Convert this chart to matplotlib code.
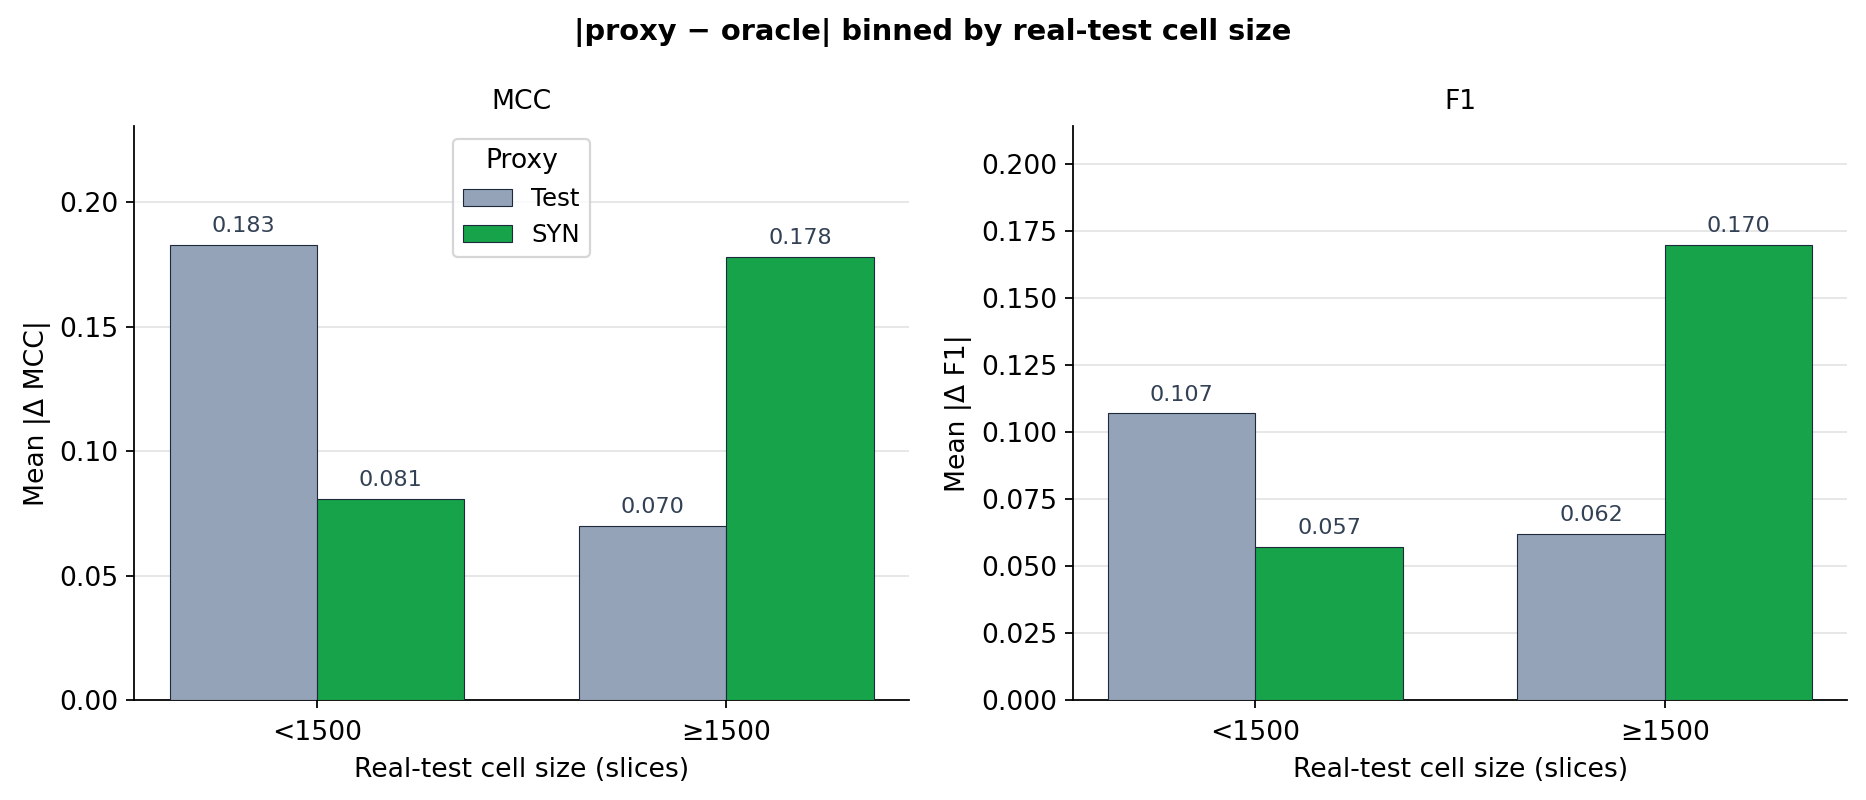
import matplotlib.pyplot as plt
import numpy as np

bins = ["<1500", "≥1500"]
proxies = ["Test", "SYN"]
mcc_test = [0.183, 0.070]
mcc_syn = [0.081, 0.178]
f1_test = [0.107, 0.062]
f1_syn = [0.057, 0.170]

colors = {"Test": "#94a3b8", "SYN": "#16a34a"}

fig, axes = plt.subplots(1, 2, figsize=(11.6625, 5), dpi=160)

panels = [
    ("MCC", "Mean |Δ MCC|", {"Test": mcc_test, "SYN": mcc_syn}),
    ("F1", "Mean |Δ F1|", {"Test": f1_test, "SYN": f1_syn}),
]

x = np.arange(len(bins))
w = 0.36

for i, (ax, (title, ylabel, vals)) in enumerate(zip(axes, panels)):
    for j, p in enumerate(proxies):
        offs = (j - 0.5) * w
        bars = ax.bar(x + offs, vals[p], width=w, color=colors[p],
                      edgecolor="#1e293b", linewidth=0.5, label=p, zorder=3)
        for b, v in zip(bars, vals[p]):
            ax.annotate(f"{v:.3f}", (b.get_x() + b.get_width() / 2, v),
                        xytext=(0, 4), textcoords="offset points",
                        ha="center", va="bottom", fontsize=10, color="#334155")
    top = max(max(vals["Test"]), max(vals["SYN"]))
    ax.set_ylim(0, top * 1.26)
    ax.set_xticks(x)
    ax.set_xticklabels(bins, fontsize=12)
    ax.tick_params(axis="y", labelsize=12)
    ax.tick_params(axis="x", pad=5.5)
    ax.set_title(title, fontsize=12, pad=8)
    ax.set_ylabel(ylabel, fontsize=12)
    ax.set_xlabel("Real-test cell size (slices)", fontsize=12, labelpad=5)
    ax.grid(axis="y", color="#e5e5e5", linewidth=0.8, zorder=0)
    ax.set_axisbelow(True)
    ax.spines["top"].set_visible(False)
    ax.spines["right"].set_visible(False)
    if i == 0:
        leg = ax.legend(title="Proxy", loc="upper center", fontsize=11,
                        title_fontsize=12)

fig.suptitle("|proxy − oracle| binned by real-test cell size",
             fontsize=13, fontweight="bold", y=0.977)
plt.subplots_adjust(left=0.072, right=0.990, top=0.842, bottom=0.125,
                    wspace=0.212)
plt.savefig("out.png", dpi=160)
